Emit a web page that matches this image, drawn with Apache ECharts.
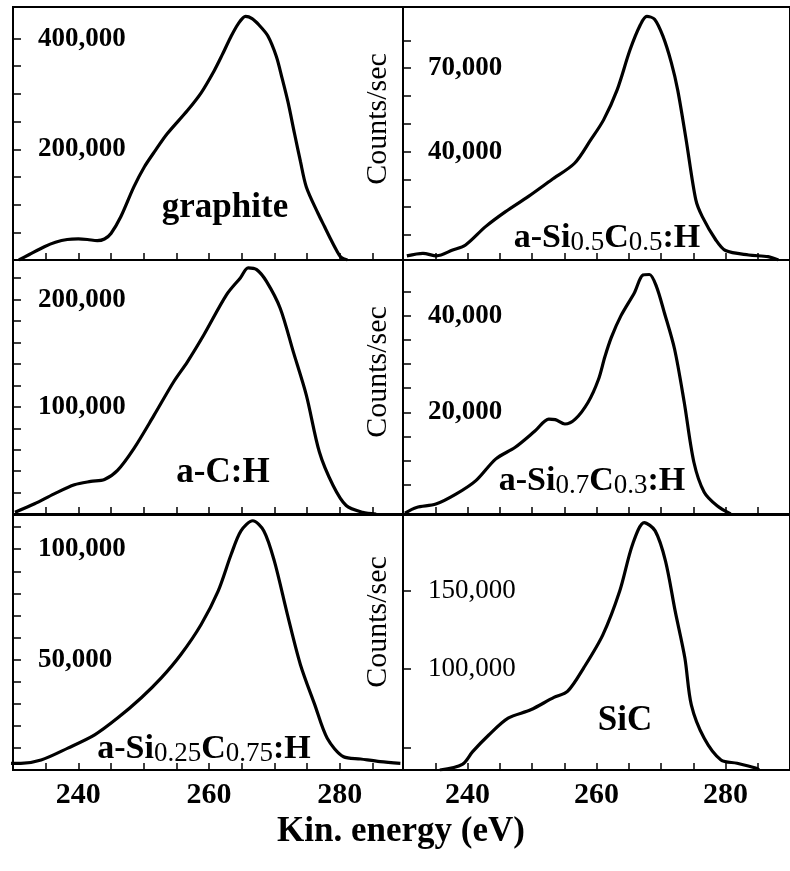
<!DOCTYPE html>
<html>
<head>
<meta charset="utf-8">
<script src="https://cdn.jsdelivr.net/npm/echarts@6/dist/echarts.min.js"></script>
<style>html,body{margin:0;padding:0;background:#fff}#c{width:790px;height:871px}</style>
</head>
<body>
<div id="c"></div>
<script>
// ---- data ----
const energyTicks = [240, 260, 280];

const graphiteE = [230.9, 232.5, 234.8, 236.5, 238.3, 240.0, 241.4, 242.9, 244.0, 245.0, 246.5, 248.5, 250.1, 251.8, 253.6, 256.7, 258.8, 260.8, 262.0, 263.3, 264.5, 265.6, 266.6, 267.7, 269.0, 270.3, 271.2, 272.1, 273.1, 274.0, 274.9, 276.7, 277.7, 278.7, 279.5, 280.2, 281.2];
const graphiteC = [0, 10000, 24000, 32000, 37000, 38000, 37000, 35000, 38000, 48000, 78000, 132000, 168000, 198000, 228000, 270000, 302000, 342000, 370000, 402000, 427000, 440000, 436000, 424000, 405000, 368000, 328000, 285000, 228000, 178000, 132000, 84000, 60000, 36000, 18000, 5000, 0];
const graphiteTicks = [50000, 100000, 150000, 200000, 250000, 300000, 350000, 400000];
const graphiteLabels = [200000, 400000];

const si05E = [230.6, 233.1, 235.2, 237.7, 239.7, 242.8, 245.9, 249.4, 253.0, 256.6, 259.1, 261.1, 263.2, 265.2, 266.8, 267.8, 269.0, 270.3, 271.6, 272.6, 273.9, 275.4, 276.4, 278.5, 280.0, 283.6, 286.6, 288.2];
const si05C = [2500, 3400, 2500, 4600, 6400, 13000, 18400, 23800, 29800, 35800, 44200, 51400, 62200, 76600, 85600, 88600, 87600, 81500, 72000, 62000, 44200, 22600, 16600, 8200, 4400, 2800, 2200, 1000];
const si05Ticks = [10000, 20000, 30000, 40000, 50000, 60000, 70000, 80000];
const si05Labels = [40000, 70000];

const achE = [230.3, 233.3, 236.3, 239.4, 241.9, 244.0, 246.0, 248.5, 251.6, 254.6, 256.7, 259.2, 262.7, 264.8, 266.0, 267.3, 268.8, 270.9, 272.9, 274.9, 276.9, 279.0, 281.0, 283.5, 285.6];
const achC = [1600, 9500, 18800, 27300, 30400, 32200, 40700, 61000, 92200, 123400, 142000, 167000, 204700, 220300, 229700, 228000, 217000, 192000, 151500, 111000, 57800, 26600, 7900, 1600, 0];
const achTicks = [20000, 40000, 60000, 80000, 100000, 120000, 140000, 160000, 180000, 200000, 220000];
const achLabels = [100000, 200000];

const si07E = [230.3, 232.1, 235.1, 238.2, 241.3, 244.4, 247.4, 250.5, 252.6, 253.6, 255.1, 256.7, 258.7, 260.3, 261.3, 262.3, 263.8, 265.9, 267.2, 268.2, 269.3, 270.5, 272.1, 273.6, 275.1, 276.7, 278.7, 280.8];
const si07C = [-800, 350, 1050, 3100, 5900, 10400, 12800, 16200, 18600, 18500, 17600, 18600, 22100, 26800, 31500, 35500, 40000, 44800, 48400, 48500, 46000, 40700, 33100, 22100, 9700, 3500, 700, -1000];
const si07Ticks = [5000, 10000, 15000, 20000, 25000, 30000, 35000, 40000, 45000];
const si07Labels = [20000, 40000];

const si025E = [229.7, 231.2, 234.3, 238.4, 242.5, 246.0, 249.6, 252.7, 255.7, 258.8, 261.4, 263.4, 264.9, 266.7, 268.4, 270.0, 272.0, 274.0, 276.2, 278.1, 280.6, 283.2, 286.2, 289.3];
const si025C = [3000, 3000, 4500, 9900, 15900, 23500, 32600, 41700, 52300, 65900, 81000, 97700, 108300, 112900, 108300, 94700, 70500, 47700, 29500, 14400, 6000, 5000, 3800, 3000];
const si025Ticks = [10000, 20000, 30000, 40000, 50000, 60000, 70000, 80000, 90000, 100000, 110000];
const si025Labels = [50000, 100000];

const sicE = [235.7, 239.2, 240.8, 243.3, 246.3, 249.8, 253.4, 255.5, 258.0, 261.0, 263.6, 265.6, 267.4, 269.1, 270.7, 272.2, 273.7, 274.7, 276.7, 279.3, 281.8, 284.8, 285.2];
const sicC = [35700, 39300, 47400, 58000, 68700, 74000, 81900, 85700, 100600, 121900, 149600, 179400, 193200, 187900, 168700, 136800, 107000, 77200, 55900, 42100, 40000, 36800, 35700];
const sicTicks = [50000, 100000, 150000];
const sicLabels = [100000, 150000];

const yRanges = [[0, 457000], [1000, 92000], [0, 237000], [-1000, 51500], [0, 115500], [35700, 198000]];

// ---- layout / style ----
const SERIF = '"Liberation Serif", "Times New Roman", "DejaVu Serif", serif';
const grids = [
  {left: 13, top: 7, width: 390, height: 253},
  {left: 403, top: 7, width: 392, height: 253},
  {left: 13, top: 260, width: 390, height: 254},
  {left: 403, top: 260, width: 392, height: 254},
  {left: 13, top: 515, width: 390, height: 255},
  {left: 403, top: 515, width: 392, height: 255}
];
const panels = [
  {E: graphiteE, C: graphiteC, ticks: graphiteTicks, labels: graphiteLabels},
  {E: si05E, C: si05C, ticks: si05Ticks, labels: si05Labels},
  {E: achE, C: achC, ticks: achTicks, labels: achLabels},
  {E: si07E, C: si07C, ticks: si07Ticks, labels: si07Labels},
  {E: si025E, C: si025C, ticks: si025Ticks, labels: si025Labels},
  {E: sicE, C: sicC, ticks: sicTicks, labels: sicLabels}
];

function fmt(v) { return String(v).replace(/\B(?=(\d{3})+(?!\d))/g, ','); }

const chart = echarts.init(document.getElementById('c'));

const option = {
  animation: false,
  backgroundColor: '#fff',
  grid: grids.map(g => Object.assign({show: true, borderColor: '#000', borderWidth: 2, backgroundColor: 'transparent'}, g)),
  xAxis: panels.map((p, i) => ({
    gridIndex: i, type: 'value', min: 230, max: (i % 2) ? 290 : 289.7, interval: 5,
    axisLine: {show: true, onZero: false, lineStyle: {color: '#000', width: 2}},
    axisTick: {show: true, inside: true, length: 7, lineStyle: {color: '#000', width: 1.5}},
    splitLine: {show: false},
    axisLabel: i >= 4 ? {
      show: true, customValues: energyTicks, formatter: v => String(v),
      color: '#000', fontFamily: SERIF, fontWeight: 'bold', fontSize: 30, margin: 10
    } : {show: false}
  })),
  yAxis: panels.map((p, i) => ({
    gridIndex: i, type: 'value', min: yRanges[i][0], max: yRanges[i][1],
    axisLine: {show: true, onZero: false, lineStyle: {color: '#000', width: 2}},
    axisTick: {show: true, inside: true, length: 8, customValues: p.ticks, lineStyle: {color: '#000', width: 1.5}},
    splitLine: {show: false},
    axisLabel: {
      show: true, inside: true, margin: 25, customValues: p.labels, formatter: fmt,
      color: '#000', fontFamily: SERIF, fontWeight: i === 5 ? 'normal' : 'bold', fontSize: 27
    }
  })),
  series: panels.map((p, i) => ({
    type: 'line', xAxisIndex: i, yAxisIndex: i, symbol: 'none', smooth: 0.3, silent: true,
    lineStyle: {color: '#000', width: 3.2},
    data: p.E.map((e, k) => [e, p.C[k]])
  })),
  graphic: [
    {type: 'text', x: 378, y: 119, rotation: Math.PI / 2, style: {text: 'Counts/sec', fontFamily: SERIF, fontSize: 30, fill: '#000', align: 'center', verticalAlign: 'middle'}},
    {type: 'text', x: 378, y: 372, rotation: Math.PI / 2, style: {text: 'Counts/sec', fontFamily: SERIF, fontSize: 30, fill: '#000', align: 'center', verticalAlign: 'middle'}},
    {type: 'text', x: 378, y: 622, rotation: Math.PI / 2, style: {text: 'Counts/sec', fontFamily: SERIF, fontSize: 30, fill: '#000', align: 'center', verticalAlign: 'middle'}},
    {type: 'text', x: 225, y: 208, style: {text: 'graphite', fontFamily: SERIF, fontWeight: 'bold', fontSize: 35, fill: '#000', align: 'center', verticalAlign: 'middle'}},
    {type: 'text', x: 223, y: 473, style: {text: 'a-C:H', fontFamily: SERIF, fontWeight: 'bold', fontSize: 35, fill: '#000', align: 'center', verticalAlign: 'middle'}},
    {type: 'text', x: 625, y: 721, style: {text: 'SiC', fontFamily: SERIF, fontWeight: 'bold', fontSize: 35, fill: '#000', align: 'center', verticalAlign: 'middle'}},
    ...[
      {x: 607, y: 238, t: '{m|a-Si}{s|0.5}{m|C}{s|0.5}{m|:H}'},
      {x: 592, y: 481, t: '{m|a-Si}{s|0.7}{m|C}{s|0.3}{m|:H}'},
      {x: 204, y: 749, t: '{m|a-Si}{s|0.25}{m|C}{s|0.75}{m|:H}'}
    ].map(o => ({
      type: 'text', x: o.x, y: o.y,
      style: {
        text: o.t, align: 'center', verticalAlign: 'middle', fill: '#000',
        rich: {
          m: {fontFamily: SERIF, fontWeight: 'bold', fontSize: 34, lineHeight: 36, verticalAlign: 'middle', fill: '#000'},
          s: {fontFamily: SERIF, fontWeight: 'normal', fontSize: 27, lineHeight: 26, verticalAlign: 'bottom', fill: '#000'}
        }
      }
    })),
    {type: 'text', x: 401, y: 832, style: {text: 'Kin. energy (eV)', fontFamily: SERIF, fontWeight: 'bold', fontSize: 35, fill: '#000', align: 'center', verticalAlign: 'middle'}}
  ]
};
chart.setOption(option);
</script>
</body>
</html>
